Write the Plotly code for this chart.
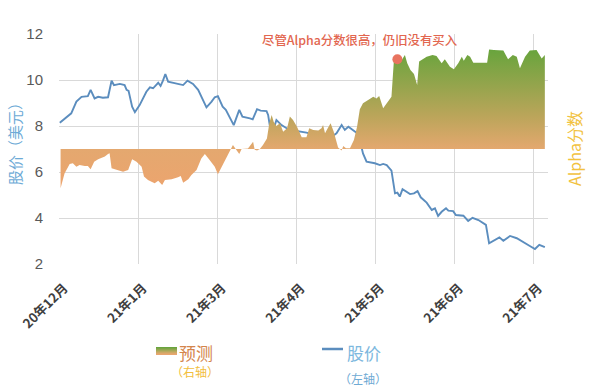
import plotly.graph_objects as go

# ---------------- data ----------------
# x = trading-day index (axis labels every 20 trading days)
tick_vals = [0, 20, 40, 60, 80, 100, 120]
tick_text = ["20年12月", "21年1月", "21年3月", "21年4月", "21年5月", "21年6月", "21年7月"]

price_day = [0.2, 3.1, 4.4, 5.7, 7.3, 8.0, 9.0, 9.9, 11.1, 12.4,
             13.3, 13.9, 15.4, 16.6, 17.1, 17.6, 18.5, 19.2, 20.4, 22.1,
             23.0, 23.8, 25.1, 25.7, 26.3, 26.9, 27.6, 29.3, 31.4, 32.5,
             33.9, 35.2, 36.0, 37.3, 38.6, 39.4, 40.2, 41.4, 42.2, 44.2,
             45.6, 46.4, 48.3, 49.0, 50.1, 51.0, 52.5, 52.9, 53.5, 54.3,
             55.0, 56.3, 57.6, 58.4, 59.4, 61.4, 62.6, 64.7, 66.0, 66.8,
             67.3, 67.8, 68.9, 70.2, 71.5, 72.3, 73.2, 74.4, 75.7, 76.5,
             76.9, 77.8, 79.9, 81.2, 82.0, 82.9, 84.1, 85.0, 85.6, 86.2,
             86.9, 88.8, 89.8, 90.7, 91.5, 93.0, 94.3, 95.1, 95.9, 96.8,
             97.9, 98.5, 99.7, 100.4, 102.3, 103.5, 104.6, 106.1, 108.0, 108.8,
             110.3, 111.4, 112.4, 114.1, 115.8, 117.4, 119.1, 120.4, 121.5, 122.9]
price = [8.14, 8.55, 9.06, 9.27, 9.30, 9.57, 9.20, 9.27, 9.23, 9.25,
         9.97, 9.78, 9.83, 9.78, 9.57, 9.53, 8.84, 8.60, 8.91, 9.49,
         9.68, 9.64, 9.88, 9.74, 9.97, 10.26, 9.93, 9.86, 9.78, 9.97,
         9.83, 9.57, 9.25, 8.81, 9.06, 9.25, 9.30, 8.84, 8.70, 8.04,
         8.70, 8.41, 8.33, 8.29, 8.73, 8.67, 8.65, 8.48, 7.83, 7.86,
         8.26, 8.04, 7.90, 7.65, 7.80, 7.75, 7.71, 7.61, 7.53, 7.42,
         7.68, 7.39, 7.51, 7.68, 8.04, 7.83, 7.97, 7.83, 7.65, 7.10,
         6.81, 6.45, 6.38, 6.30, 6.35, 6.30, 6.06, 5.07, 5.10, 4.93,
         5.25, 5.04, 5.07, 5.17, 4.90, 4.67, 4.35, 4.42, 4.09, 4.27,
         4.42, 4.32, 4.30, 4.13, 4.10, 3.87, 4.01, 3.91, 3.70, 2.90,
         3.07, 3.16, 3.01, 3.22, 3.12, 2.97, 2.78, 2.65, 2.83, 2.73]

alpha_day = [0.4, 1.4, 2.7, 3.5, 4.4, 5.2, 6.5, 7.3, 8.0, 8.9,
             9.9, 11.6, 12.4, 12.8, 13.3, 14.5, 16.2, 17.5, 18.5, 19.6,
             20.9, 21.5, 22.5, 23.4, 24.2, 25.1, 26.1, 26.8, 28.5, 30.1,
             30.8, 31.4, 32.7, 33.5, 34.8, 36.0, 36.9, 38.1, 39.4, 40.2,
             43.6, 44.0, 44.7, 45.6, 46.2, 47.8, 49.1, 49.5, 50.1, 50.8,
             51.6, 52.6, 53.2, 53.8, 54.3, 55.0, 55.9, 56.7, 57.7, 58.4,
             59.2, 60.2, 61.4, 62.6, 63.3, 64.3, 65.6, 66.4, 66.8, 67.3,
             67.8, 68.7, 69.5, 70.6, 71.5, 71.9, 72.6, 73.6, 74.6, 75.4,
             76.1, 76.9, 78.2, 79.5, 80.3, 81.0, 82.0, 83.3, 84.1, 84.7,
             85.6, 86.7, 87.5, 88.1, 88.9, 89.8, 90.6, 91.1, 93.0, 94.5,
             95.5, 96.8, 97.6, 98.9, 99.9, 101.0, 101.9, 102.4, 103.3, 104.0,
             104.8, 108.3, 108.8, 110.0, 112.4, 113.6, 114.8, 115.8, 116.6, 117.9,
             119.1, 120.8, 122.1, 122.9]
alpha = [-1.71, -1.06, -0.65, -0.62, -0.77, -0.70, -0.74, -0.74, -0.88, -0.55,
         -0.45, -0.33, -0.22, -0.19, -0.84, -0.91, -0.99, -0.91, -0.45, -0.55,
         -0.77, -1.20, -1.35, -1.42, -1.49, -1.38, -1.57, -1.35, -1.32, -1.23,
         -1.17, -1.47, -1.32, -1.13, -0.91, -0.41, -0.22, -0.48, -0.77, -1.10,
         0.07, 0.17, 0.0, -0.22, 0.0, 0.02, 0.32, -0.03, -0.07, 0.0,
         0.17, 0.46, 1.12, 1.48, 1.19, 1.00, 1.12, 0.75, 0.90, 1.41,
         1.26, 0.97, 0.51, 0.51, 0.90, 0.83, 0.80, 0.90, 1.04, 0.68,
         0.85, 1.12, 0.75, 0.07, -0.07, 0.13, 0.03, 0.03, 0.39, 0.97,
         1.73, 1.99, 2.13, 2.27, 2.20, 2.30, 1.77, 2.06, 2.27, 3.80,
         3.90, 3.87, 4.09, 3.73, 3.43, 3.26, 2.78, 3.80, 4.01, 4.09,
         4.04, 3.73, 3.90, 3.58, 3.47, 3.73, 4.01, 3.84, 4.09, 4.01,
         3.75, 3.75, 4.33, 4.30, 4.28, 3.90, 4.09, 4.01, 3.51, 4.01,
         4.28, 4.30, 3.94, 4.09]

highlight_day = [85.6]
highlight_alpha = [3.90]
highlight_text = "尽管Alpha分数很高，仍旧没有买入"

# ---------------- figure ----------------
W, H = 590, 387
L, R, T, B = 59, 42, 34, 123
CJK = "Noto Sans CJK SC"


def pp(xp, yp):
    return (xp - L) / (W - L - R), (H - B - yp) / (H - T - B)


fig = go.Figure()

fig.add_trace(go.Scatter(
    x=alpha_day, y=alpha, yaxis="y2", mode="lines", fill="tozeroy",
    line=dict(width=0, color="rgba(0,0,0,0)"),
    fillgradient=dict(type="vertical", start=-1.8, stop=4.4,
                      colorscale=[[0, "#EDA46E"], [0.29, "#E4A86F"],
                                  [0.52, "#BBA55A"], [1, "#66A43C"]]),
    hoverinfo="skip", showlegend=False))

fig.add_trace(go.Scatter(
    x=price_day, y=price, mode="lines",
    line=dict(color="#5B8DBE", width=1.9), showlegend=False))

fig.add_trace(go.Scatter(
    x=highlight_day, y=highlight_alpha, yaxis="y2", mode="markers",
    marker=dict(color="#E8735F", size=10), showlegend=False))

annotations = []


def ann(text, xp, yp, size, color, angle=0, weight="normal"):
    x, y = pp(xp, yp)
    annotations.append(dict(text=text, x=x, y=y, xref="paper", yref="paper",
                            showarrow=False, xanchor="center", yanchor="middle",
                            textangle=angle,
                            font=dict(family=CJK, size=size, color=color, weight=weight)))


ann(highlight_text, 360, 40, 12.4, "#E2664F", weight=500)
ann("股价（美元）", 14, 140, 15, "#6DAAD6", angle=-90)
ann("Alpha分数", 574, 149, 16, "#F2C23E", angle=-90)
ann("预测", 196, 352, 17, "#D4854C")
ann("（右轴）", 195, 371, 12, "#F2BE3C")
ann("股价", 364, 352, 17, "#7DB8DE")
ann("（左轴）", 363, 378, 12, "#6FAAD4")

shapes = []
x0, y0 = pp(322, 349)
x1, _ = pp(343, 349)
shapes.append(dict(type="line", xref="paper", yref="paper", x0=x0, x1=x1, y0=y0, y1=y0,
                   line=dict(color="#5B8DBE", width=2.5)))
strip_colors = ["#6AA43E", "#7CA546", "#8FA74F", "#A4A857", "#B9A95E",
                "#CDA865", "#DEA76B", "#E8A66F"]
for i, c in enumerate(strip_colors):
    sx0, sy0 = pp(156, 347 + i * 1.0)
    sx1, sy1 = pp(177, 347 + (i + 1) * 1.0)
    shapes.append(dict(type="rect", xref="paper", yref="paper", x0=sx0, x1=sx1,
                       y0=sy1, y1=sy0, fillcolor=c, line=dict(width=0)))

fig.update_layout(
    width=W, height=H, margin=dict(l=L, r=R, t=T, b=B, autoexpand=False),
    paper_bgcolor="white", plot_bgcolor="white",
    font=dict(family=CJK),
    xaxis=dict(range=[0, 123.7], tickmode="array", tickvals=tick_vals, ticktext=tick_text,
               tickangle=-45, showgrid=True, gridcolor="#D9D9D9", gridwidth=1,
               zeroline=False, showline=False, ticks="",
               ticklabelstandoff=13, ticklabelshift=5,
               tickfont=dict(family=CJK, size=13, color="#404040", weight="bold")),
    yaxis=dict(range=[2, 12], tickvals=[2, 4, 6, 8, 10, 12], showgrid=True,
               gridcolor="#D9D9D9", gridwidth=1, zeroline=False, showline=False,
               ticks="outside", ticklen=12, tickcolor="rgba(0,0,0,0)",
               tickfont=dict(family="Liberation Sans", size=15, color="#595959")),
    yaxis2=dict(range=[-5, 5], overlaying="y", side="right", showgrid=False,
                zeroline=False, showticklabels=False, ticks=""),
    annotations=annotations, shapes=shapes,
)

fig.write_html("out.html", config={"displayModeBar": False},
               post_script="document.body.style.margin='0';document.body.style.overflow='hidden';")
